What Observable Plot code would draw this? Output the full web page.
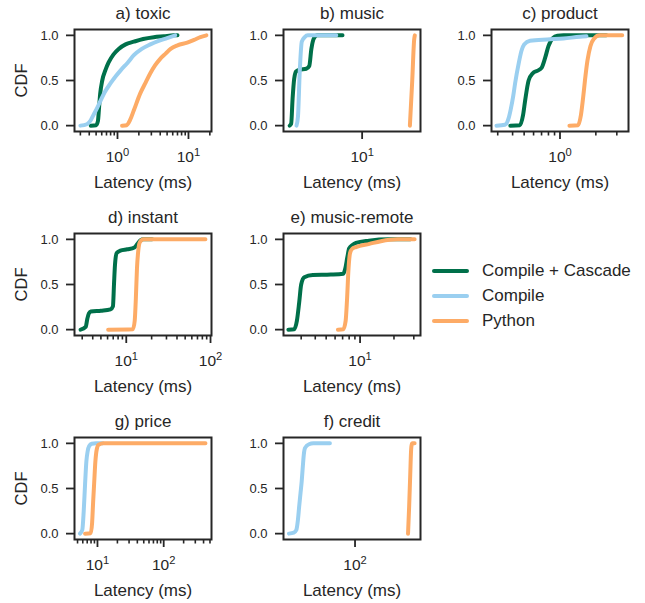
<!DOCTYPE html>
<html>
<head>
<meta charset="utf-8">
<script src="https://cdn.jsdelivr.net/npm/d3@7"></script>
<script src="https://cdn.jsdelivr.net/npm/@observablehq/plot@0.6"></script>
<style>
  html, body { margin: 0; padding: 0; background: #fff; }
  #chart { position: relative; width: 645px; height: 603px; overflow: hidden; font-family: "Liberation Sans", Arial, sans-serif; color: #262626; }
  #chart svg { position: absolute; overflow: visible; }
  .lg-row { position: absolute; left: 432px; height: 24px; display: flex; align-items: center; font-size: 17px; white-space: nowrap; }
  .lg-line { width: 37px; height: 4px; border-radius: 2px; margin-right: 13px; }
</style>
</head>
<body>
<div id="chart"></div>
<script>
// ---------- data: [latency (ms), CDF] ----------
const seriesNames = ["Compile + Cascade", "Compile", "Python"];
const seriesColors = ["#00704a", "#9acff0", "#fdab66"];

const toxicCascade = [[0.42,0],[0.50,0.005],[0.53,0.05],[0.55,0.2],[0.57,0.35],[0.61,0.5],[0.68,0.62],[0.75,0.7],[0.88,0.79],[1.04,0.85],[1.3,0.9],[1.7,0.93],[2.3,0.96],[3.25,0.98],[4.5,0.99],[6.2,1.0],[7.0,1.0]];
const toxicCompile = [[0.30,0],[0.37,0.015],[0.42,0.06],[0.46,0.12],[0.52,0.2],[0.58,0.28],[0.66,0.37],[0.80,0.47],[0.95,0.55],[1.1,0.61],[1.4,0.7],[1.7,0.78],[2.2,0.85],[2.9,0.9],[3.8,0.94],[5.0,0.97],[6.5,1.0]];
const toxicPython = [[1.16,0],[1.35,0.005],[1.5,0.06],[1.7,0.17],[2.1,0.36],[2.5,0.48],[2.9,0.58],[3.4,0.67],[4.0,0.74],[4.8,0.8],[5.6,0.85],[7,0.89],[9.6,0.92],[12,0.95],[14.7,0.98],[17.9,1.0]];

const musicCascade = [[2.28,0],[2.35,0.02],[2.42,0.3],[2.5,0.52],[2.6,0.6],[2.8,0.62],[3.2,0.63],[3.4,0.66],[3.55,0.85],[3.75,0.97],[4.0,1.0],[6.7,1.0]];
const musicCompile = [[2.62,0],[2.7,0.1],[2.8,0.6],[2.92,0.93],[3.1,0.98],[3.3,1.0],[5.9,1.0]];
const musicPython = [[26.5,0],[27.8,0.5],[28.9,0.95],[29.3,1.0]];

const productCascade = [[0.383,0],[0.46,0.005],[0.49,0.12],[0.51,0.28],[0.545,0.5],[0.59,0.58],[0.65,0.61],[0.70,0.64],[0.75,0.75],[0.80,0.88],[0.87,0.97],[0.95,0.995],[1.07,1.0],[2.45,1.0]];
const productCompile = [[0.293,0],[0.345,0.01],[0.37,0.08],[0.385,0.175],[0.405,0.33],[0.42,0.47],[0.45,0.69],[0.475,0.83],[0.5,0.9],[0.56,0.94],[0.78,0.955],[1.07,0.965],[1.47,0.985],[1.67,0.99]];
const productPython = [[1.2,0],[1.42,0.005],[1.5,0.12],[1.57,0.33],[1.62,0.5],[1.7,0.72],[1.8,0.88],[1.92,0.96],[2.15,1.0],[3.33,1.0]];

const instantCascade = [[2.87,0],[3.3,0.03],[3.45,0.12],[3.6,0.18],[3.8,0.2],[5,0.21],[6.5,0.225],[6.95,0.26],[7.15,0.5],[7.35,0.72],[7.7,0.85],[8.5,0.875],[10.3,0.89],[12.5,0.91],[13.6,0.95],[14.8,0.99],[16,1.0],[20.3,1.0]];
const instantPython = [[6.1,0],[12.0,0.005],[12.6,0.1],[13.0,0.35],[13.4,0.68],[13.9,0.88],[14.5,0.97],[16,1.0],[87,1.0]];

const remoteCascade = [[2.31,0],[2.6,0.005],[2.75,0.1],[2.88,0.3],[3.0,0.5],[3.2,0.58],[3.8,0.605],[5.5,0.61],[7.1,0.62],[7.4,0.68],[7.7,0.8],[8.0,0.9],[8.6,0.94],[9.2,0.96],[12,0.985],[18,1.0],[28,1.0]];
const remotePython = [[6.36,0],[7.1,0.005],[7.45,0.1],[7.65,0.32],[7.9,0.68],[8.15,0.85],[8.5,0.895],[9.2,0.915],[12.1,0.95],[15.3,0.98],[21.5,1.0],[30.5,1.0]];

const priceCompile = [[5.45,0],[5.9,0.04],[6.2,0.25],[6.5,0.55],[6.8,0.8],[7.1,0.91],[7.5,0.97],[8.2,0.995],[9.5,1.0],[12,1.0]];
const pricePython = [[6.5,0],[7.9,0.005],[8.3,0.12],[8.6,0.35],[8.9,0.55],[9.3,0.8],[9.8,0.94],[10.4,0.985],[12.3,1.0],[427,1.0]];

const creditCompile = [[25.3,0],[28,0.01],[29.5,0.04],[30.5,0.15],[31.3,0.3],[32.2,0.45],[33,0.58],[33.8,0.75],[34.5,0.88],[35.4,0.95],[38.4,0.99],[42,1.0],[59.3,1.0]];
const creditPython = [[301,0],[308,0.3],[315,0.65],[321,0.93],[324,0.98],[330,1.0],[345,1.0]];

// tick values
const yTicks = [0, 0.5, 1.0];
const toxicMajor = [1, 10], toxicMinor = [0.3,0.4,0.5,0.6,0.7,0.8,0.9,2,3,4,5,6,7,8,9,20];
const musicMajor = [10], musicMinor = [];
const productMajor = [1], productMinor = [0.3,0.4,0.5,0.6,0.7,0.8,0.9,2,3];
const instantMajor = [10, 100], instantMinor = [3,4,5,6,7,8,9,20,30,40,50,60,70,80,90];
const remoteMajor = [10], remoteMinor = [3,4,5,6,7,8,9,20,30];
const priceMajor = [10, 100], priceMinor = [5,6,7,8,9,20,30,40,50,60,70,80,90,200,300,400,500];
const creditMajor = [100], creditMinor = [];

// ---------- layout ----------
const colLeft = [74, 283, 491];
const rowTop = [29, 233, 437];
const frameW = 137, frameH = 102;
const mL = 80, mT = 40, mR = 30, mB = 70;
const ink = "#262626";
const font = "'Liberation Sans', Arial, sans-serif";

const panels = [
  {title: "a) toxic", col: 0, row: 0, domain: [0.248, 21.1], major: toxicMajor, minor: toxicMinor, lines: [toxicCascade, toxicCompile, toxicPython]},
  {title: "b) music", col: 1, row: 0, domain: [2.01, 32.9], major: musicMajor, minor: musicMinor, lines: [musicCascade, musicCompile, musicPython]},
  {title: "c) product", col: 2, row: 0, domain: [0.266, 3.76], major: productMajor, minor: productMinor, lines: [productCascade, productCompile, productPython]},
  {title: "d) instant", col: 0, row: 1, domain: [2.43, 102.7], major: instantMajor, minor: instantMinor, lines: [instantCascade, null, instantPython]},
  {title: "e) music-remote", col: 1, row: 1, domain: [2.09, 34.4], major: remoteMajor, minor: remoteMinor, lines: [remoteCascade, null, remotePython]},
  {title: "g) price", col: 0, row: 2, domain: [4.5, 527], major: priceMajor, minor: priceMinor, lines: [null, priceCompile, pricePython]},
  {title: "f) credit", col: 1, row: 2, domain: [22.6, 390], major: creditMajor, minor: creditMinor, lines: [null, creditCompile, creditPython]}
];

const chart = document.getElementById("chart");

for (const p of panels) {
  const marks = [];
  p.lines.forEach((data, i) => {
    if (!data) return;
    marks.push(Plot.line(data, {
      x: d => d[0], y: d => d[1], stroke: seriesColors[i], strokeWidth: 4,
      strokeLinecap: "round", strokeLinejoin: "round", curve: "monotone-x"
    }));
  });
  marks.push(Plot.frame({stroke: ink, strokeWidth: 2}));
  if (p.minor.length) {
    marks.push(Plot.axisX(p.minor, {tickSize: 4.5, strokeWidth: 1.6, stroke: ink, tickFormat: () => "", label: null}));
  }
  marks.push(Plot.axisX(p.major, {
    tickSize: 8, strokeWidth: 1.8, stroke: ink, tickPadding: 11, fontSize: 15.5, fill: ink,
    tickFormat: d => "10^" + Math.round(Math.log10(d)), label: null
  }));
  marks.push(Plot.axisY(yTicks, {
    tickSize: 8, strokeWidth: 1.8, stroke: ink, tickPadding: 8, fontSize: 13, fill: ink,
    tickFormat: d3.format(".1f"), label: null
  }));
  marks.push(Plot.text([p.title], {frameAnchor: "top", lineAnchor: "middle", dy: -16, fontSize: 17, fill: ink, text: d => d}));
  marks.push(Plot.text(["Latency (ms)"], {frameAnchor: "bottom", lineAnchor: "middle", dy: 51, fontSize: 17, fill: ink, text: d => d}));
  if (p.col === 0) {
    marks.push(Plot.text(["CDF"], {frameAnchor: "left", textAnchor: "middle", lineAnchor: "middle", dx: -53, rotate: -90, fontSize: 16.5, fill: ink, text: d => d}));
  }
  const svg = Plot.plot({
    width: mL + frameW + mR,
    height: mT + frameH + mB,
    marginLeft: mL, marginRight: mR, marginTop: mT, marginBottom: mB,
    x: {type: "log", domain: p.domain, axis: null},
    y: {domain: [-0.065, 1.065], axis: null},
    style: {fontFamily: font, overflow: "visible", background: "transparent", color: ink},
    marks
  });
  svg.style.left = (colLeft[p.col] - mL) + "px";
  svg.style.top = (rowTop[p.row] - mT) + "px";
  // superscript exponents for 10^n labels
  svg.querySelectorAll("text").forEach(t => {
    const m = /^10\^(-?\d+)$/.exec(t.textContent);
    if (m) {
      t.textContent = "";
      const ns = "http://www.w3.org/2000/svg";
      const a = document.createElementNS(ns, "tspan");
      a.textContent = "10";
      const b = document.createElementNS(ns, "tspan");
      b.textContent = m[1];
      b.setAttribute("dy", "-0.45em");
      b.setAttribute("font-size", "0.72em");
      t.appendChild(a); t.appendChild(b);
    }
  });
  chart.appendChild(svg);
}

// legend
const legendCenters = [271, 295.7, 320.7];
seriesNames.forEach((name, i) => {
  const row = document.createElement("div");
  row.className = "lg-row";
  row.style.top = (legendCenters[i] - 12) + "px";
  const ln = document.createElement("div");
  ln.className = "lg-line";
  ln.style.background = seriesColors[i];
  const tx = document.createElement("span");
  tx.textContent = name;
  row.appendChild(ln); row.appendChild(tx);
  chart.appendChild(row);
});
</script>
</body>
</html>
